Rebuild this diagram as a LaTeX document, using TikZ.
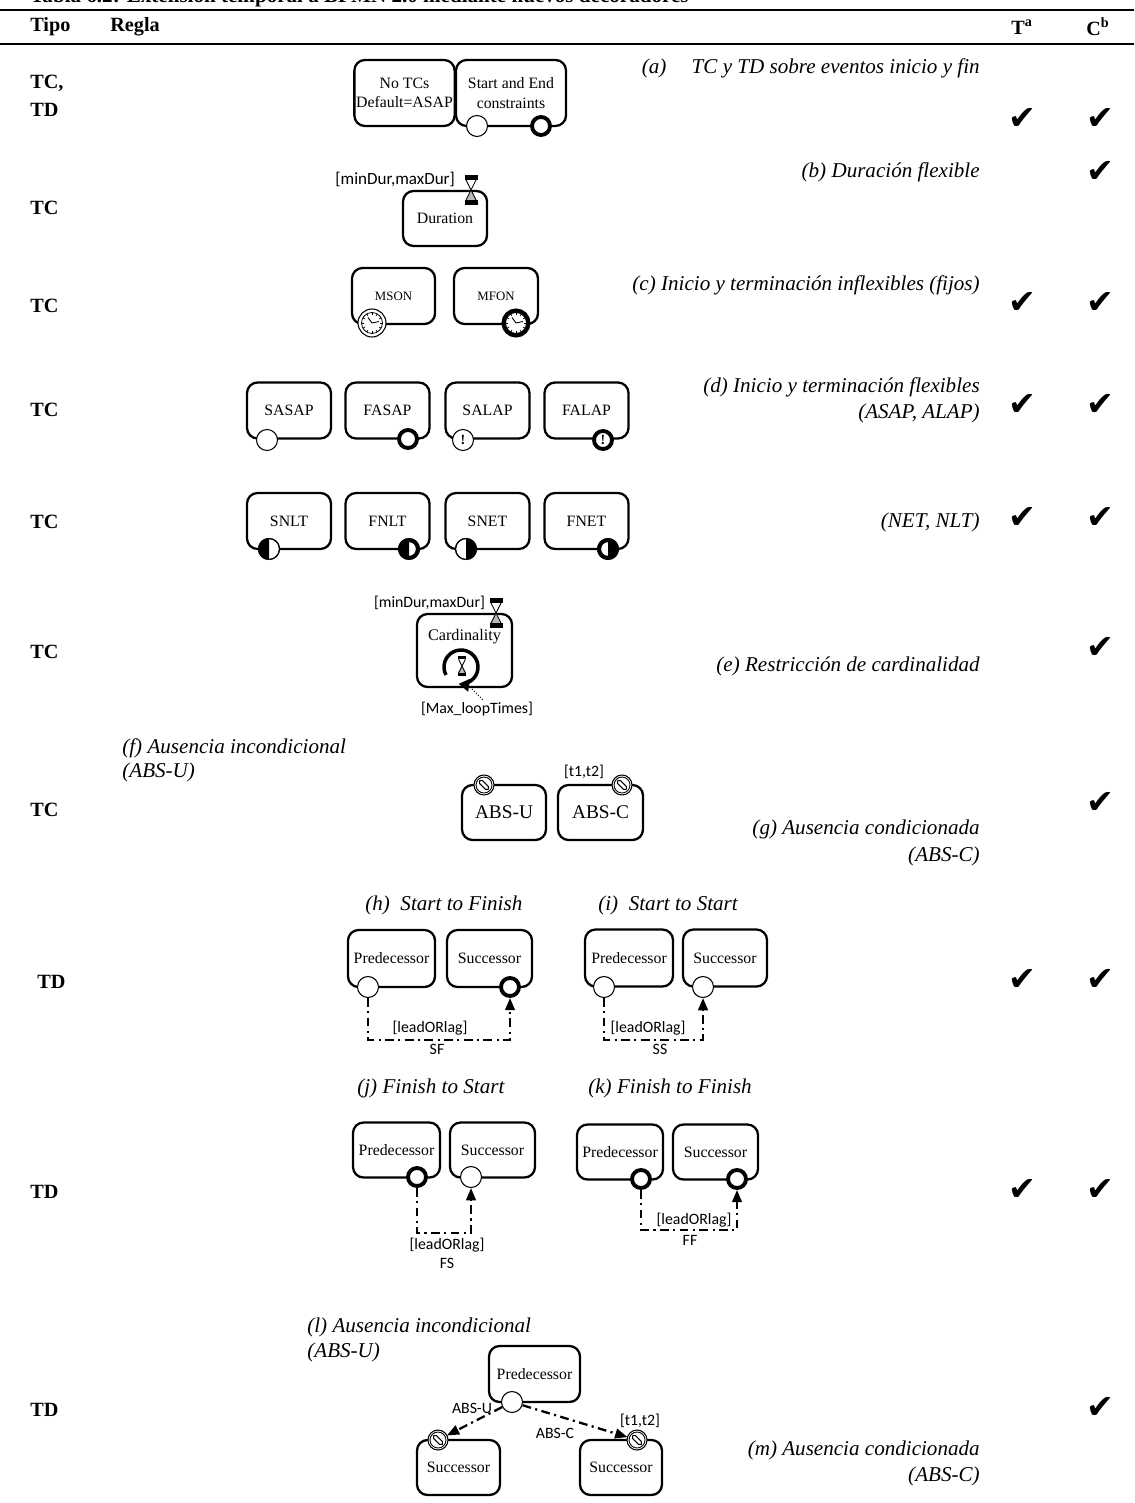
\documentclass[tikz,border=0pt]{standalone}
\usepackage{fontspec}
\setmainfont{Liberation Serif}
\newfontfamily\calfont{Carlito}
\newfontfamily\symfont{DejaVu Sans}
\usetikzlibrary{arrows.meta}

% clock dial used by the timer events
\newcommand\clockface{%
  \draw[line width=0.45pt] (0,0) circle[radius=10.5];
  \foreach \a in {0,30,...,330} \draw[line width=0.4pt] (\a:8) -- (\a:10.5);
  \draw[line width=0.5pt] (0,0) -- (-4,-5.5) (0,0) -- (7,-1.5);
}

\begin{document}
\begin{tikzpicture}[x=0.02cm,y=-0.02cm,
  task/.style={draw, line width=1.3pt, rounded corners=6pt, align=center, inner sep=1pt,
               minimum width=1.68cm, minimum height=1.12cm, font=\fontsize{9}{11}\selectfont},
  bw/.style={minimum width=#1*0.02cm},
  bh/.style={minimum height=#1*0.02cm},
  ev/.style={circle, draw, fill=white, inner sep=0pt, minimum size=0.42cm, line width=0.6pt},
  evend/.style={circle, draw, fill=white, inner sep=0pt, minimum size=0.36cm, line width=2.2pt},
  bang/.style={font=\bfseries\fontsize{8}{8}\selectfont},
  lab/.style={font=\itshape\fontsize{12}{14}\selectfont, inner sep=0pt},
  kind/.style={anchor=west, inner sep=0pt, font=\bfseries\fontsize{11.5}{13}\selectfont},
  chk/.style={font=\symfont\fontsize{19}{19}\selectfont, inner sep=0pt},
  small/.style={font=\calfont\fontsize{9}{10}\selectfont, inner sep=1pt},
  rel/.style={line width=1.3pt, dash pattern=on 5pt off 2.5pt on 1.2pt off 2.5pt},
  tip/.style={-{Triangle[length=7pt,width=5.5pt]}},
  hourglass/.pic={
    \fill[gray!55] (0,15) -- (-5,25) -- (5,25) -- cycle;
    \draw[line width=0.5pt] (-5,5) -- (5,25) (5,5) -- (-5,25);
    \fill (-6.5,0) rectangle (6.5,5);
    \fill (-6.5,25) rectangle (6.5,30);
  },
  clockthin/.pic={\draw[fill=white,line width=0.6pt] (0,0) circle[radius=14]; \clockface},
  clockthick/.pic={\draw[fill=white,line width=2.3pt] (0,0) circle[radius=12.5]; \clockface},
  absmark/.pic={
    \draw[fill=white, line width=0.6pt] (0,0) circle[radius=10];
    \draw[line width=0.5pt] (0,0) circle[radius=8];
    \draw[line width=0.6pt, rotate=-45, rounded corners=1pt] (-6,-2) rectangle (6,2);
  },
]
\useasboundingbox (0,0) rectangle (1134,1503);

% caption and table rules
\node[anchor=base west, inner sep=0pt, font=\bfseries\fontsize{12}{14}\selectfont] (cap) at (30,3)
  {Tabla 6.2: Extensión temporal a BPMN 2.0 mediante nuevos decoradores};
\draw[line width=1.5pt] (0,10) -- (1134,10);
\draw[line width=1pt] (0,44) -- (1134,44);
\node[kind] (hTipo) at (30,27) {Tipo};
\node[kind] (hRegla) at (110,27) {Regla};
\node[kind, anchor=center] (hT) at (1022,27) {T\textsuperscript{a}};
\node[kind, anchor=center] (hC) at (1098,27) {C\textsuperscript{b}};

% type column
\node[kind] (k1) at (30,83) {TC,};
\node[kind] (k1b) at (30,110) {TD};
\node[kind] (k2) at (30,208) {TC};
\node[kind] (k3) at (30,306) {TC};
\node[kind] (k4) at (30,410) {TC};
\node[kind] (k5) at (30,522) {TC};
\node[kind] (k6) at (30,652) {TC};
\node[kind] (k7) at (30,810) {TC};
\node[kind] (k8) at (37,982) {TD};
\node[kind] (k9) at (30,1192) {TD};
\node[kind] (k10) at (30,1410) {TD};

% check marks
\node[chk] (t1) at (1022,119) {✔}; \node[chk] (c1) at (1100,119) {✔};
\node[chk] (c2) at (1100,172) {✔};
\node[chk] (t3) at (1022,303) {✔}; \node[chk] (c3) at (1100,303) {✔};
\node[chk] (t4) at (1022,405) {✔}; \node[chk] (c4) at (1100,405) {✔};
\node[chk] (t5) at (1022,518) {✔}; \node[chk] (c5) at (1100,518) {✔};
\node[chk] (c6) at (1100,648) {✔};
\node[chk] (c7) at (1100,803) {✔};
\node[chk] (t8) at (1022,980) {✔}; \node[chk] (c8) at (1100,980) {✔};
\node[chk] (t9) at (1022,1190) {✔}; \node[chk] (c9) at (1100,1190) {✔};
\node[chk] (c10) at (1100,1408) {✔};

% rule captions
\node[lab, anchor=east] (la) at (980,68) {(a)\hspace{1.2em}TC y TD sobre eventos inicio y fin};
\node[lab, anchor=east] (lb) at (980,172) {(b) Duración flexible};
\node[lab, anchor=east] (lc) at (980,285) {(c) Inicio y terminación inflexibles (fijos)};
\node[lab, anchor=east] (ld) at (980,387) {(d) Inicio y terminación flexibles};
\node[lab, anchor=east] (ld2) at (980,413) {(ASAP, ALAP)};
\node[lab, anchor=east] (lnet) at (980,522) {(NET, NLT)};
\node[lab, anchor=east] (le) at (980,666) {(e) Restricción de cardinalidad};
\node[lab, anchor=west] (lf) at (122,748) {(f) Ausencia incondicional};
\node[lab, anchor=west] (lf2) at (122,772) {(ABS-U)};
\node[lab, anchor=east] (lg) at (980,829) {(g) Ausencia condicionada};
\node[lab, anchor=east] (lg2) at (980,856) {(ABS-C)};
\node[lab, anchor=west] (lh) at (365,905) {(h)\hspace{0.5em}Start to Finish};
\node[lab, anchor=west] (li) at (598,905) {(i)\hspace{0.5em}Start to Start};
\node[lab, anchor=west] (lj) at (357,1088) {(j) Finish to Start};
\node[lab, anchor=west] (lk) at (588,1088) {(k) Finish to Finish};
\node[lab, anchor=west] (ll) at (307,1327) {(l) Ausencia incondicional};
\node[lab, anchor=west] (ll2) at (307,1352) {(ABS-U)};
\node[lab, anchor=east] (lm) at (980,1450) {(m) Ausencia condicionada};
\node[lab, anchor=east] (lm2) at (980,1476) {(ABS-C)};

% (a) start and end events
\node[task, bw=85, bh=66] (notc) at (404.5,93) {No TCs\\Default=ASAP};
\node[task, bw=110, bh=66] (stend) at (511,93) {Start and End\\constraints};
\node[ev] (stendS) at (477,126) {};
\node[evend] (stendE) at (541,126) {};

% (b) flexible duration
\node[task, bw=84, bh=55] (dur) at (445,218.5) {Duration};
\pic at (471,175) {hourglass};
\node[small, anchor=east, font=\calfont\fontsize{9.7}{11}\selectfont] (durlab) at (457,180) {[minDur,maxDur]};

% (c) fixed start / finish
\node[task, bw=83, bh=56, font=\fontsize{7.3}{9}\selectfont] (mson) at (393.5,296) {MSON};
\pic at (372,323) {clockthin};
\node[task, bw=84, bh=56, font=\fontsize{7.3}{9}\selectfont] (mfon) at (496,296) {MFON};
\pic at (516,323) {clockthick};

% (d) ASAP / ALAP
\node[task] (sasap) at (289,410.5) {SASAP};
\node[task] (fasap) at (387.5,410.5) {FASAP};
\node[task] (salap) at (487.5,410.5) {SALAP};
\node[task] (falap) at (586.5,410.5) {FALAP};
\node[ev] (sasapE) at (267,440) {};
\node[evend] (fasapE) at (408,439) {};
\node[ev, bang] (salapE) at (463,440) {!};
\node[evend, bang] (falapE) at (603,440) {!};

% NET / NLT
\node[task] (snlt) at (289,521) {SNLT};
\node[task] (fnlt) at (387.5,521) {FNLT};
\node[task] (snet) at (487.5,521) {SNET};
\node[task] (fnet) at (586.5,521) {FNET};
\node[ev] (snltE) at (269,549) {};
\node[evend] (fnltE) at (409,549) {};
\node[ev] (snetE) at (466,549) {};
\node[evend] (fnetE) at (608,549) {};
\fill (269,549) ++(0,-10.5) arc[start angle=-90, end angle=-270, radius=10.5] -- cycle;
\fill (409,549) ++(0,-9) arc[start angle=-90, end angle=-270, radius=9] -- cycle;
\fill (466,549) ++(0,-10.5) arc[start angle=-90, end angle=90, radius=10.5] -- cycle;
\fill (608,549) ++(0,-9) arc[start angle=-90, end angle=90, radius=9] -- cycle;
\node[ev, fill=none] (snltO) at (269,549) {};
\node[evend, fill=none] (fnltO) at (409,549) {};
\node[ev, fill=none] (snetO) at (466,549) {};
\node[evend, fill=none] (fnetO) at (608,549) {};

% (e) cardinality
\node[task, bw=95, bh=73] (card) at (464.5,650.5) {};
\node[font=\fontsize{9.2}{11}\selectfont, inner sep=0pt] (cardT) at (464.5,637) {Cardinality};
\pic at (496,598) {hourglass};
\node[small, anchor=east] (cardlab) at (487,603) {[minDur,maxDur]};
% loop marker: open circle with its arrowhead at the lower left
\draw[line width=2pt, -{Triangle[length=6pt,width=7pt]}]
  (461,667) ++(-208:17) arc[start angle=-208, end angle=98, radius=17];
\pic[scale=0.68] at (462,656) {hourglass};
\coordinate (loopA) at (468,685);
\coordinate (loopB) at (483,700);
\draw[densely dotted, line width=0.6pt] (loopA) -- (loopB);
\node[small] (maxl) at (477,709) {[Max\_loopTimes]};

% (f)/(g) absence
\node[task, bw=84, bh=55, font=\fontsize{11}{13}\selectfont] (absu) at (504,812.5) {ABS-U};
\node[task, bw=85, bh=55, font=\fontsize{11}{13}\selectfont] (absc) at (600.5,812.5) {ABS-C};
\pic at (484,785) {absmark};
\pic at (622,785) {absmark};
\node[small] (abst) at (584,772) {[t1,t2]};

% (h) start to finish
\node[task, bw=87, bh=57] (hp) at (391.5,958.5) {Predecessor};
\node[task, bw=85, bh=57] (hs) at (489.5,958.5) {Successor};
\node[ev] (hpe) at (368,987) {};
\node[evend] (hse) at (510,987) {};
\coordinate (hb) at (0,1040);
\draw[rel, tip] (hpe.south) -- (hpe.south |- hb) -| (hse.south);
\node[small] (hl) at (430,1028) {[leadORlag]};
\node[small] (hsf) at (437,1049) {SF};

% (i) start to start
\node[task, bw=88, bh=57] (ip) at (629,958) {Predecessor};
\node[task, bw=84, bh=57] (is) at (725,958) {Successor};
\node[ev] (ipe) at (604,987) {};
\node[ev] (ise) at (703,987) {};
\draw[rel, tip] (ipe.south) -- (ipe.south |- hb) -| (ise.south);
\node[small] (il) at (648,1028) {[leadORlag]};
\node[small] (iss) at (660,1049) {SS};

% (j) finish to start
\node[task, bw=87, bh=55] (jp) at (396.5,1150) {Predecessor};
\node[task, bw=85, bh=55] (js) at (492.5,1150) {Successor};
\node[evend] (jpe) at (417,1177) {};
\node[ev] (jse) at (471,1177) {};
\coordinate (jb) at (0,1233);
\draw[rel, tip] (jpe.south) -- (jpe.south |- jb) -| (jse.south);
\node[small] (jl) at (447,1245) {[leadORlag]};
\node[small] (jfs) at (447,1263) {FS};

% (k) finish to finish
\node[task, bw=86, bh=55] (kp) at (620,1152) {Predecessor};
\node[task, bw=85, bh=55] (ks) at (715.5,1152) {Successor};
\node[evend] (kpe) at (641,1179) {};
\node[evend] (kse) at (737,1179) {};
\coordinate (kb) at (0,1230);
\draw[rel, tip] (kpe.south) -- (kpe.south |- kb) -| (kse.south);
\node[small] (kl) at (694,1220) {[leadORlag]};
\node[small] (kff) at (690,1240) {FF};

% (l)/(m) absence between activities
\node[task, bw=91, bh=56] (lp) at (534.5,1374) {Predecessor};
\node[task, bw=83, bh=55] (lsa) at (458.5,1467.5) {Successor};
\node[task, bw=82, bh=55] (lsb) at (621,1467.5) {Successor};
\node[ev] (lpe) at (512,1402) {};
\pic at (438,1440) {absmark};
\pic at (637,1440) {absmark};
\coordinate (lua) at (438,1440);
\coordinate (lub) at (637,1440);
\draw[rel, tip, shorten >=0.2cm] (lpe) -- (lua);
\draw[rel, tip, shorten >=0.2cm] (lpe) -- (lub);
\node[small] (lab1) at (472,1408) {ABS-U};
\node[small] (lab2) at (555,1433) {ABS-C};
\node[small] (lab3) at (640,1421) {[t1,t2]};
\end{tikzpicture}
\end{document}
